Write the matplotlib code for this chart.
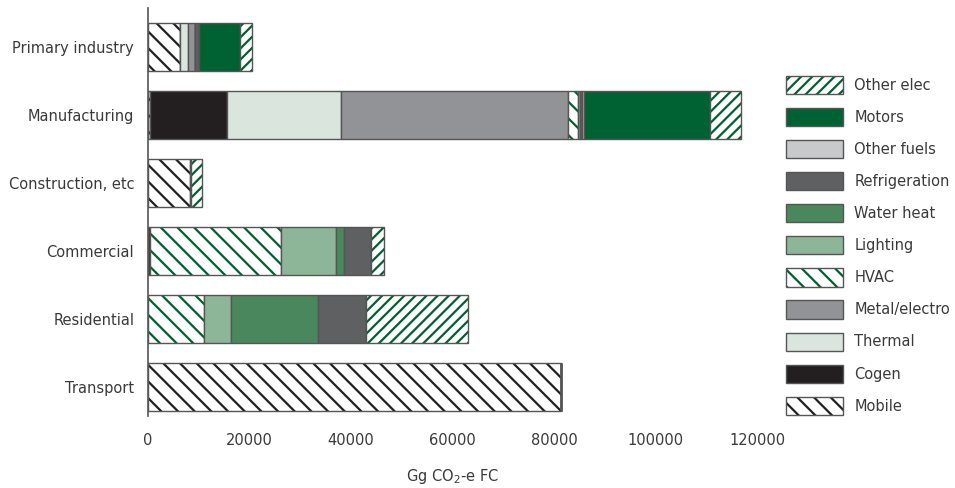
import matplotlib
matplotlib.use('Agg')
import matplotlib.pyplot as plt
from matplotlib.patches import Patch
from matplotlib.legend_handler import HandlerTuple
import numpy as np

# categories, top to bottom
sectors = ["Primary industry", "Manufacturing", "Construction, etc",
           "Commercial", "Residential", "Transport"]

# Gg CO2-e FC per end use (order = sectors)
mobile        = [6300,   400, 8300,     0,     0, 81400]
cogen         = [0,    15100,  200,   400,     0,     0]
thermal       = [1500, 22500,    0,     0,     0,     0]
metal_electro = [1450, 44850,    0,     0,     0,     0]
hvac          = [0,     1850,    0, 25750, 11100,     0]
lighting      = [0,      350,    0, 10850,  5250,     0]
water_heat    = [0,        0,    0,  1650, 17100,     0]
refrigeration = [850,    500,    0,  5300,  9450,     0]
other_fuels   = [0,      400,    0,     0,     0,     0]
motors        = [8000, 24700,    0,     0,     0,     0]
other_elec    = [2300,  6150, 2150,  2600, 20200,     0]

series = [
    ("Mobile", mobile),
    ("Cogen", cogen),
    ("Thermal", thermal),
    ("Metal/electro", metal_electro),
    ("HVAC", hvac),
    ("Lighting", lighting),
    ("Water heat", water_heat),
    ("Refrigeration", refrigeration),
    ("Other fuels", other_fuels),
    ("Motors", motors),
    ("Other elec", other_elec),
]

GREEN = "#00602f"
styles = {
    "Mobile":        dict(fc="white", hc="#231f20", hatch="\\\\"),
    "Cogen":         dict(fc="#231f20"),
    "Thermal":       dict(fc="#dae5dd"),
    "Metal/electro": dict(fc="#929396"),
    "HVAC":          dict(fc="white", hc=GREEN, hatch="\\\\"),
    "Lighting":      dict(fc="#8db597"),
    "Water heat":    dict(fc="#4a875c"),
    "Refrigeration": dict(fc="#5f6062"),
    "Other fuels":   dict(fc="#c8c9cb"),
    "Motors":        dict(fc="#006233"),
    "Other elec":    dict(fc="white", hc=GREEN, hatch="///"),
}

TEXT = "#3a3a3a"
EDGE = "#555555"
plt.rcParams['hatch.linewidth'] = 1.6
plt.rcParams['font.family'] = ['DejaVu Sans']

fig = plt.figure(figsize=(9.55, 4.88), dpi=100)
ax = fig.add_axes([0.155, 0.1475, 0.6377, 0.836])

y = np.arange(len(sectors))[::-1]
left = np.zeros(len(sectors))
handles = {}
for name, vals in series:
    vals = np.array(vals, dtype=float)
    st = styles[name]
    if "hatch" in st:
        ax.barh(y, vals, left=left, height=0.71, color="white",
                edgecolor=st["hc"], hatch=st["hatch"], linewidth=0)
        ax.barh(y, vals, left=left, height=0.71, fill=False,
                edgecolor=EDGE, linewidth=1.0)
        h = (Patch(facecolor="white", edgecolor=st["hc"], hatch=st["hatch"], linewidth=0),
             Patch(fill=False, edgecolor=EDGE, linewidth=1.0))
    else:
        ax.barh(y, vals, left=left, height=0.71, color=st["fc"],
                edgecolor=EDGE, linewidth=1.0)
        h = Patch(facecolor=st["fc"], edgecolor=EDGE, linewidth=1.0)
    handles[name] = h
    left += vals

ax.set_xlim(0, 120000)
ax.set_ylim(-0.426, 5.57)
ax.set_yticks(y)
ax.set_yticklabels(sectors, fontsize=10.5, color=TEXT)
ax.set_xticks(np.arange(0, 120001, 20000))
ax.set_xticklabels([str(v) for v in range(0, 120001, 20000)], fontsize=10.5, color=TEXT)
ax.tick_params(axis='both', length=0)
ax.tick_params(axis='x', pad=12)
ax.tick_params(axis='y', pad=10)
for s in ["top", "right", "bottom"]:
    ax.spines[s].set_visible(False)
ax.spines["left"].set_color(EDGE)
ax.spines["left"].set_linewidth(1.2)
ax.set_xlabel("Gg CO$_2$-e FC", fontsize=10.5, color=TEXT, labelpad=14)

order = [name for name, _ in series][::-1]
leg = fig.legend([handles[n] for n in order], order,
                 loc="upper left", bbox_to_anchor=(0.809, 0.872),
                 frameon=False, fontsize=10.5, handlelength=3.9,
                 handleheight=1.55, labelspacing=0.95, handletextpad=0.8,
                 handler_map={tuple: HandlerTuple(ndivide=1, pad=0)})
for t in leg.get_texts():
    t.set_color(TEXT)

fig.savefig("out.png", dpi=100)
